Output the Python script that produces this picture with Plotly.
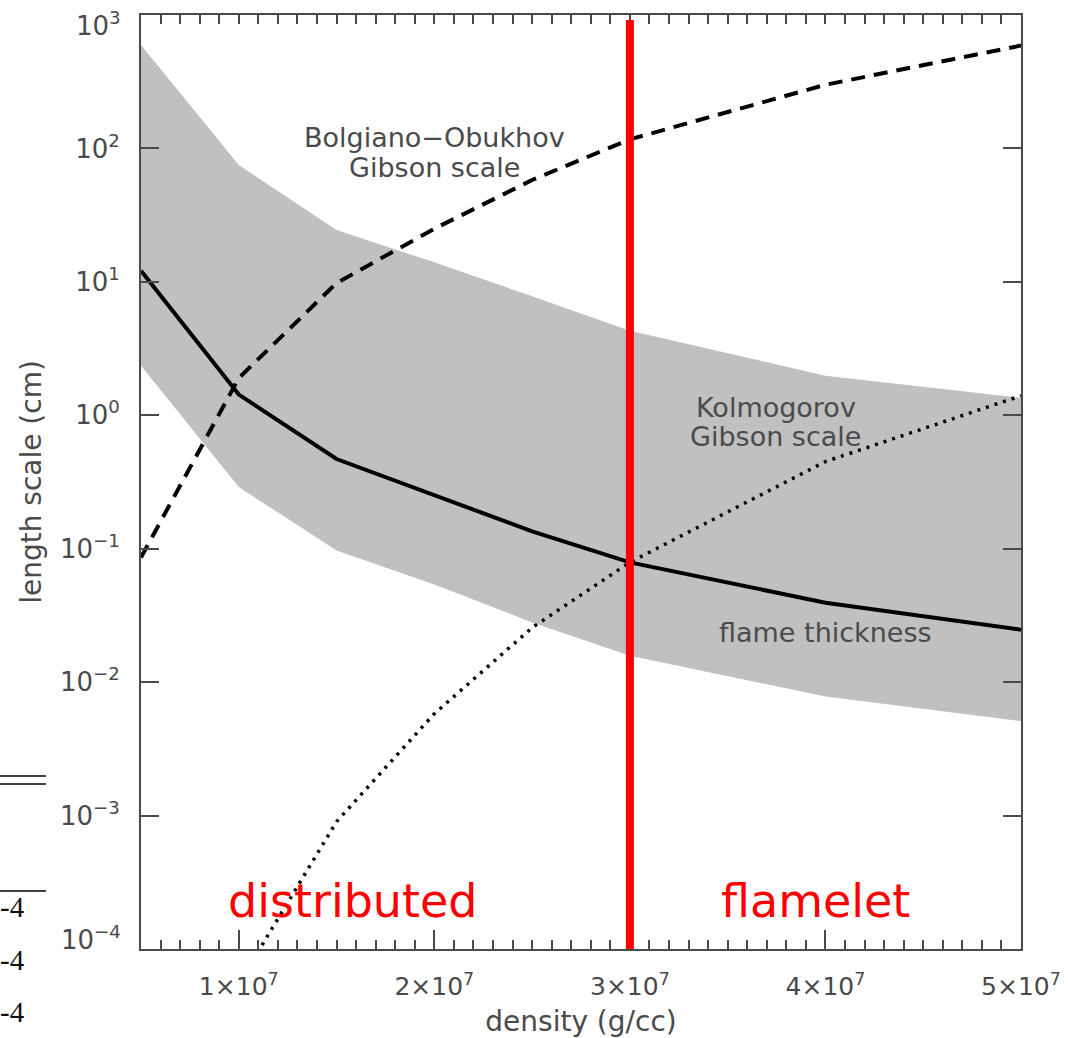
import plotly.graph_objects as go

# ---------------- data ----------------
density = [5e6, 1e7, 1.5e7, 2e7, 2.5e7, 3e7, 4e7, 5e7]
flame_thickness = [12.1, 1.43, 0.47, 0.254, 0.135, 0.079, 0.0394, 0.0247]
band_upper = [596, 75, 24.5, 14.0, 7.8, 4.3, 1.98, 1.35]
band_lower = [2.35, 0.29, 0.097, 0.054, 0.028, 0.0158, 0.0078, 0.0051]
bolgiano_obukhov = [0.086, 1.9, 9.8, 25, 58, 117, 300, 590]
kol_density = [1e7, 1.5e7, 2e7, 2.5e7, 3e7, 4e7, 5e7]
kolmogorov = [5.5e-5, 9e-4, 0.0058, 0.0256, 0.079, 0.45, 1.4]
transition_density = 3e7

x_tickvals = [1e7, 2e7, 3e7, 4e7, 5e7]
x_ticktext = ["1×10<sup>7</sup>", "2×10<sup>7</sup>", "3×10<sup>7</sup>",
              "4×10<sup>7</sup>", "5×10<sup>7</sup>"]
y_tickvals = [1e-4, 1e-3, 1e-2, 1e-1, 1e0, 1e1, 1e2, 1e3]
y_ticktext = ["10<sup>−4</sup>", "10<sup>−3</sup>", "10<sup>−2</sup>", "10<sup>−1</sup>",
              "10<sup>0</sup>", "10<sup>1</sup>", "10<sup>2</sup>", "10<sup>3</sup>"]

FONT = "DejaVu Sans"
TXT = "#4a4a4a"
AX = "#4a4a4a"

fig = go.Figure()

# gray band
fig.add_trace(go.Scatter(
    x=density + density[::-1], y=band_upper + band_lower[::-1],
    fill="toself", fillcolor="#c0c0c0", line=dict(width=0),
    mode="lines", hoverinfo="skip", showlegend=False))

# flame thickness
fig.add_trace(go.Scatter(x=density, y=flame_thickness, mode="lines",
                         line=dict(color="black", width=4), showlegend=False))
# Bolgiano-Obukhov Gibson scale
fig.add_trace(go.Scatter(x=density, y=bolgiano_obukhov, mode="lines",
                         line=dict(color="black", width=4, dash="14px,9px"),
                         showlegend=False))
# Kolmogorov Gibson scale
fig.add_trace(go.Scatter(x=kol_density, y=kolmogorov, mode="lines",
                         line=dict(color="black", width=3.5, dash="3px,6px"),
                         showlegend=False))

# invisible trace for top axis
fig.add_trace(go.Scatter(x=[density[0]], y=[1], xaxis="x2", mode="markers",
                         marker=dict(opacity=0), hoverinfo="skip", showlegend=False))

# red transition line
fig.add_shape(type="line", xref="x", yref="paper",
              x0=transition_density, x1=transition_density, y0=0, y1=0.9946,
              line=dict(color="#ff0000", width=8))

ann_font = dict(family=FONT, size=27, color=TXT)
labels = [
    ("Bolgiano−Obukhov", 2.0e7, 2.079),
    ("Gibson scale", 2.0e7, 1.854),
    ("Kolmogorov", 3.747e7, 0.056),
    ("Gibson scale", 3.747e7, -0.161),
    ("flame thickness", 3.998e7, -1.629),
]
for t, xx, yy in labels:
    fig.add_annotation(x=xx, y=yy, xref="x", yref="y", text=t, showarrow=False,
                       font=ann_font, xanchor="center", yanchor="middle")

for t, xx in [("distributed", 1.584e7), ("flamelet", 3.947e7)]:
    fig.add_annotation(x=xx, y=-3.64, xref="x", yref="y", text=t, showarrow=False,
                       font=dict(family=FONT, size=46, color="#ff0000"),
                       xanchor="center", yanchor="middle")

# end tick labels of the y axis are nudged inward (as in the original)
y_shown_text = list(y_ticktext)
y_shown_text[0] = ""
y_shown_text[-1] = ""
for txt, py in [(y_ticktext[-1], 24), (y_ticktext[0], 938)]:
    fig.add_annotation(x=-0.0205, y=(949 - py) / 934, xref="paper", yref="paper",
                       text=txt, showarrow=False, xanchor="right", yanchor="middle",
                       font=dict(family=FONT, size=26, color=TXT))

# stray fragments on the left edge of the page crop
for py in [776, 784, 891]:
    fig.add_shape(type="line", xref="paper", yref="paper", x0=-0.161, x1=-0.108,
                  y0=(949 - py) / 934, y1=(949 - py) / 934,
                  line=dict(color="black", width=1.5))
for py in [907, 960, 1012]:
    fig.add_annotation(x=-0.163, y=(949 - py) / 934, xref="paper", yref="paper",
                       text="-4", showarrow=False, xanchor="left", yanchor="middle",
                       font=dict(family="Liberation Serif", size=29, color="#111111"))

fig.update_layout(
    width=1068, height=1038,
    margin=dict(l=141, r=47, t=15, b=89),
    plot_bgcolor="white", paper_bgcolor="white",
    showlegend=False,
    xaxis=dict(
        range=[5e6, 5e7], showgrid=False, zeroline=False, automargin=False,
        showline=True, linecolor=AX, linewidth=2,
        tickmode="array", tickvals=x_tickvals, ticktext=x_ticktext,
        ticks="inside", ticklen=19, tickwidth=1.5, tickcolor=AX,
        minor=dict(dtick=1e6, tick0=0, ticks="inside", ticklen=9, tickwidth=1.5,
                   tickcolor=AX, showgrid=False),
        tickfont=dict(family=FONT, size=25, color=TXT),
        ticklabelstandoff=14, ticklabeloverflow="allow",
        title=dict(text="density (g/cc)", font=dict(family=FONT, size=28, color=TXT),
                   standoff=12),
    ),
    xaxis2=dict(
        overlaying="x", side="top", range=[5e6, 5e7], showgrid=False, zeroline=False,
        showline=True, linecolor=AX, linewidth=2, automargin=False,
        tickmode="linear", tick0=0, dtick=1e6, ticks="inside", ticklen=9,
        tickwidth=1.5, tickcolor=AX, showticklabels=False,
    ),
    yaxis=dict(
        type="log", range=[-4, 3], showgrid=False, zeroline=False, automargin=False,
        showline=True, linecolor=AX, linewidth=2, mirror="ticks",
        tickmode="array", tickvals=y_tickvals, ticktext=y_shown_text,
        ticks="inside", ticklen=18, tickwidth=1.5, tickcolor=AX,
        tickfont=dict(family=FONT, size=26, color=TXT),
        ticklabelstandoff=14, ticklabeloverflow="allow",
        title=dict(text="length scale (cm)", font=dict(family=FONT, size=28, color=TXT),
                   standoff=10),
    ),
)

fig.write_html("out.html")
